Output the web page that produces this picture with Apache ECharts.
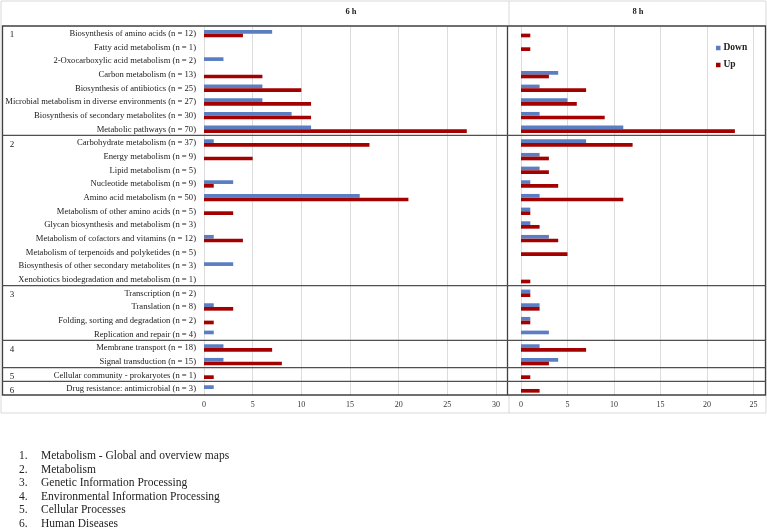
<!DOCTYPE html>
<html>
<head>
<meta charset="utf-8">
<script src="https://cdn.jsdelivr.net/npm/echarts@6/dist/echarts.min.js"></script>
<style>
  html, body { margin: 0; padding: 0; background: #fff; }
  #main { width: 767px; height: 529px; }
</style>
</head>
<body>
<div id="main"></div>
<script>
// KEGG pathways, top to bottom
var categories = [
    'Biosynthesis of amino acids (n = 12)',
    'Fatty acid metabolism (n = 1)',
    '2-Oxocarboxylic acid metabolism (n = 2)',
    'Carbon metabolism (n = 13)',
    'Biosynthesis of antibiotics (n = 25)',
    'Microbial metabolism in diverse environments (n = 27)',
    'Biosynthesis of secondary metabolites (n = 30)',
    'Metabolic pathways (n = 70)',
    'Carbohydrate metabolism (n = 37)',
    'Energy metabolism (n = 9)',
    'Lipid metabolism (n = 5)',
    'Nucleotide metabolism (n = 9)',
    'Amino acid metabolism (n = 50)',
    'Metabolism of other amino acids (n = 5)',
    'Glycan biosynthesis and metabolism (n = 3)',
    'Metabolism of cofactors and vitamins (n = 12)',
    'Metabolism of terpenoids and polyketides (n = 5)',
    'Biosynthesis of other secondary metabolites (n = 3)',
    'Xenobiotics biodegradation and metabolism (n = 1)',
    'Transcription (n = 2)',
    'Translation (n = 8)',
    'Folding, sorting and degradation (n = 2)',
    'Replication and repair (n = 4)',
    'Membrane transport (n = 18)',
    'Signal transduction (n = 15)',
    'Cellular community - prokaryotes (n = 1)',
    'Drug resistance: antimicrobial (n = 3)'
];

var down6h = [7,0,2,0,6,6,9,11,1,0,0,3,16,0,0,1,0,3,0,0,1,0,1,2,2,0,1];
var up6h   = [4,0,0,6,10,11,11,27,17,5,0,1,21,3,0,4,0,0,0,0,3,1,0,7,8,1,0];
var down8h = [0,0,0,4,2,5,2,11,7,2,2,1,2,1,1,3,0,0,0,1,2,1,3,2,4,0,0];
var up8h   = [1,1,0,3,7,6,9,23,12,3,3,4,11,1,2,4,5,0,1,1,2,1,0,7,3,1,2];

// group number -> first row index
var groupNames = ['1','2','3','4','5','6'];
var groupStart = [0,8,19,23,25,26];
var groupList = [
    'Metabolism - Global and overview maps',
    'Metabolism',
    'Genetic Information Processing',
    'Environmental Information Processing',
    'Cellular Processes',
    'Human Diseases'
];

var serif = '"Liberation Serif", "Times New Roman", serif';
var blue = '#5b7ec2', red = '#a30000';

var top0 = 26, h0 = 369;   // table body
var rowH = h0 / categories.length;

var myChart = echarts.init(document.getElementById('main'));

var graphics = [];
// light outer cell frame
graphics.push({type:'rect', shape:{x:1, y:1, width:765, height:412}, style:{fill:null, stroke:'#d9d9d9', lineWidth:1}, z:1});
graphics.push({type:'line', shape:{x1:509, y1:1, x2:509, y2:26}, style:{stroke:'#d9d9d9', lineWidth:1}});
graphics.push({type:'line', shape:{x1:509, y1:395, x2:509, y2:413}, style:{stroke:'#d9d9d9', lineWidth:1}});
// dark body frame
graphics.push({type:'rect', shape:{x:2.5, y:top0, width:763, height:h0}, style:{fill:null, stroke:'#404040', lineWidth:1.3}, z:10});
graphics.push({type:'line', shape:{x1:507.5, y1:top0, x2:507.5, y2:top0 + h0}, style:{stroke:'#404040', lineWidth:1.3}, z:10});
// group separators + numbers
for (var g = 0; g < groupStart.length; g++) {
    var y = top0 + groupStart[g] * rowH;
    if (g > 0) {
        graphics.push({type:'line', shape:{x1:2.5, y1:y, x2:765.5, y2:y}, style:{stroke:'#505050', lineWidth:1.2}, z:10});
    }
    graphics.push({type:'text', x:12, y:y + rowH / 2 + 2, style:{text:groupNames[g], font:'9px ' + serif, fill:'#222', align:'center', verticalAlign:'middle'}});
}
// headers
graphics.push({type:'text', x:351, y:12, style:{text:'6 h', font:'bold 8.5px ' + serif, fill:'#222', align:'center', verticalAlign:'middle'}});
graphics.push({type:'text', x:638, y:12, style:{text:'8 h', font:'bold 8.5px ' + serif, fill:'#222', align:'center', verticalAlign:'middle'}});
// numbered list under the table
for (var i = 0; i < groupList.length; i++) {
    var ly = 456 + i * 13.5;
    graphics.push({type:'text', x:19, y:ly, style:{text:(i + 1) + '.', font:'11.5px ' + serif, fill:'#222', verticalAlign:'middle'}});
    graphics.push({type:'text', x:41, y:ly, style:{text:groupList[i], font:'11.5px ' + serif, fill:'#222', verticalAlign:'middle'}});
}

function xAx(idx, max) {
    return {
        type: 'value', gridIndex: idx, min: 0, max: max, interval: 5,
        axisLine: {show: false}, axisTick: {show: false},
        axisLabel: {fontFamily: serif, fontSize: 8, color: '#333', margin: 5},
        splitLine: {lineStyle: {color: '#dcdcdc', width: 1}}
    };
}
function yAx(idx, labels) {
    return {
        type: 'category', gridIndex: idx, data: categories, inverse: true,
        axisLine: {show: false}, axisTick: {show: false},
        axisLabel: {show: labels, fontFamily: serif, fontSize: 8.6, color: '#1a1a1a', margin: 8, interval: 0}
    };
}
function bar(name, idx, data, color) {
    return {
        name: name, type: 'bar', xAxisIndex: idx, yAxisIndex: idx, data: data,
        barWidth: 3.7, barGap: '0%', itemStyle: {color: color},
        emphasis: {disabled: true}
    };
}

option = {
    animation: false,
    backgroundColor: '#fff',
    grid: [
        {left: 204, top: top0 + 0.8, width: 292, height: h0},
        {left: 521, top: top0 + 0.8, width: 232.5, height: h0}
    ],
    xAxis: [xAx(0, 30), xAx(1, 25)],
    yAxis: [yAx(0, true), yAx(1, false)],
    legend: {
        data: ['Down', 'Up'], orient: 'vertical', left: 711, top: 38,
        icon: 'rect', itemWidth: 4.5, itemHeight: 4.5, itemGap: 7,
        textStyle: {fontFamily: serif, fontWeight: 'bold', fontSize: 9.5, color: '#222', padding: [0, 0, 0, -2]}
    },
    series: [
        bar('Down', 0, down6h, blue),
        bar('Up', 0, up6h, red),
        bar('Down', 1, down8h, blue),
        bar('Up', 1, up8h, red)
    ],
    graphic: graphics
};
myChart.setOption(option);
</script>
</body>
</html>
